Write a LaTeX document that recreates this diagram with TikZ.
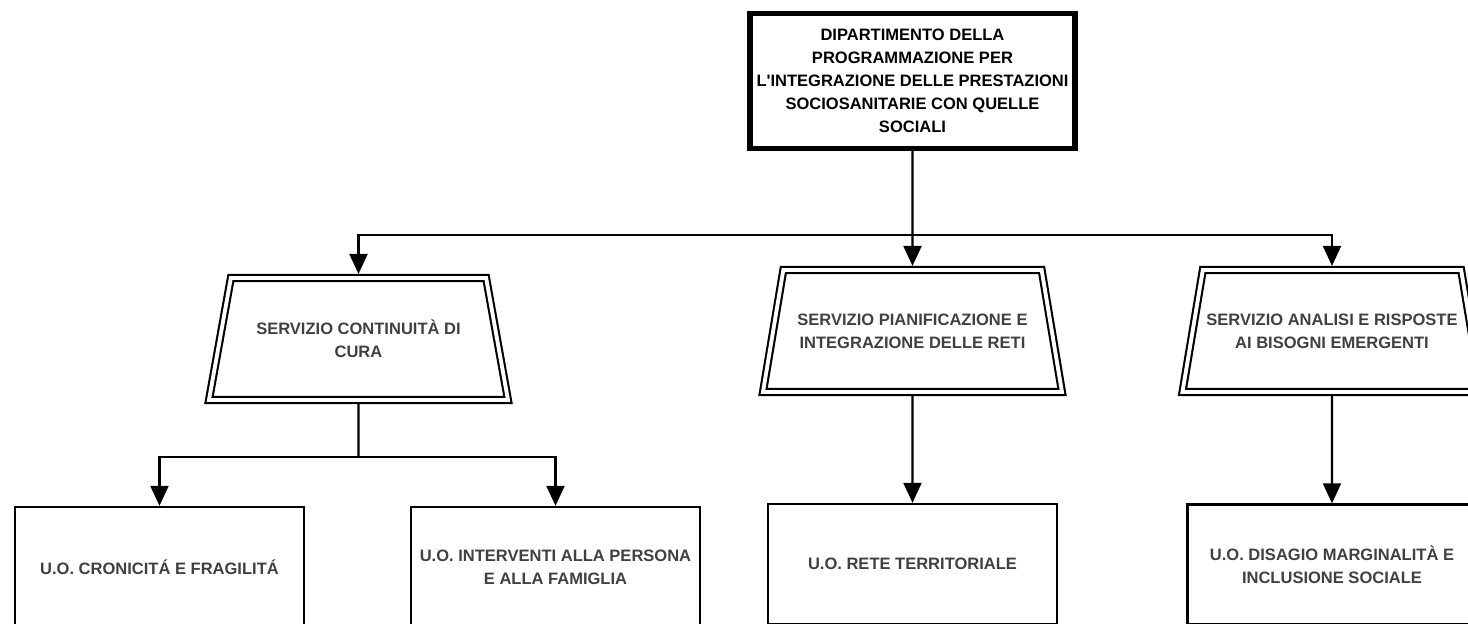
\documentclass[tikz,border=0pt]{standalone}
\usepackage{fontspec}
\newfontfamily\arialfont{Liberation Sans}
\usepackage{tikz}
\usetikzlibrary{arrows.meta}
\usetikzlibrary{shapes}
\definecolor{textgray}{HTML}{404040}
\tikzstyle{base} = [draw=black, text centered, align=center, font=\arialfont\fontsize{4.7}{6.54}\selectfont\bfseries, inner sep=1pt]
\tikzstyle{dipartimento} = [base, rectangle, line width=1.5pt, minimum width=3.25cm, minimum height=1.35cm, inner sep=0.5pt]
\tikzstyle{servizio} = [base, trapezium, trapezium left angle=64, trapezium right angle=64, trapezium stretches body=true, minimum width=2.99cm, minimum height=1.22cm, line width=0.6pt, double, double distance=1.1pt, outer sep=1.15pt, text=textgray]
\tikzstyle{unita} = [base, rectangle, line width=0.65pt, minimum width=2.89cm, minimum height=1.2cm, text=textgray]

\begin{document}
\begin{tikzpicture}[node distance=2.5cm, line width=0.6pt, >={Triangle[length=0.2cm,width=0.18cm]}]
    \clip (-9.125,0.81) rectangle (5.555,-5.43);
    \node (dip) [dipartimento] {DIPARTIMENTO DELLA\\PROGRAMMAZIONE PER\\L'INTEGRAZIONE DELLE PRESTAZIONI\\SOCIOSANITARIE CON QUELLE\\SOCIALI};
    \node (plan) [servizio, below of=dip] {SERVIZIO PIANIFICAZIONE E\\INTEGRAZIONE DELLE RETI};
    \node (cura) [servizio, left of=plan, xshift=-3.04cm, yshift=-0.08cm] {SERVIZIO CONTINUIT\`A DI\\CURA};
    \node (analisi) [servizio, right of=plan, xshift=1.695cm] {SERVIZIO ANALISI E RISPOSTE\\AI BISOGNI EMERGENTI};
    \node (rete) [unita, below of=plan, yshift=0.17cm] {U.O. RETE TERRITORIALE};
    \node (cron) [unita, below of=cura, xshift=-1.99cm, yshift=0.22cm] {U.O. CRONICIT\'A E FRAGILIT\'A};
    \node (pers) [unita, below of=cura, xshift=1.97cm, yshift=0.22cm] {U.O. INTERVENTI ALLA PERSONA\\E ALLA FAMIGLIA};
    \node (disagio) [unita, below of=analisi, yshift=0.165cm] {U.O. DISAGIO MARGINALIT\`A E\\INCLUSIONE SOCIALE};
    \coordinate (hub) at (0,-1.54);
    \coordinate (split) at (-5.54,-3.76);

    \draw[->] (dip) -- (plan);
    \draw[->] (hub) -| (cura);
    \draw[->] (hub) -| (analisi);
    \draw (cura) -- (split);
    \draw[->] (split) -| (cron);
    \draw[->] (split) -| (pers);
    \draw[->] (plan) -- (rete);
    \draw[->] (analisi) -- (disagio);
\end{tikzpicture}
\end{document}
